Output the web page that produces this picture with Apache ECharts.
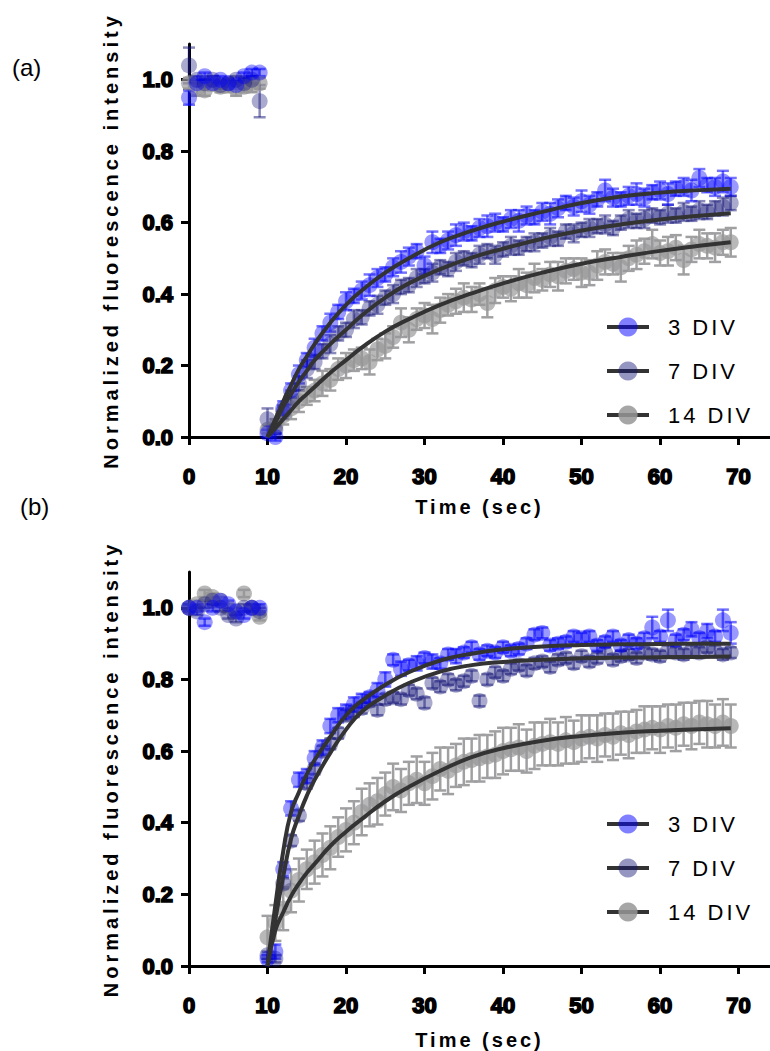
<!DOCTYPE html>
<html><head><meta charset="utf-8">
<script src="https://cdn.jsdelivr.net/npm/echarts@6/dist/echarts.min.js"></script>
<style>html,body{margin:0;padding:0;background:#fff}#c{width:770px;height:1051px}</style>
</head><body><div id="c"></div>
<script>
// ---------- data ----------
const seriesNames = ['3 DIV', '7 DIV', '14 DIV'];
const xTicks = [0, 10, 20, 30, 40, 50, 60, 70];
const yTicks = [0, 0.2, 0.4, 0.6, 0.8, 1.0];
const time = [0,1,2,3,4,5,6,7,8,9,10,11,12,13,14,15,16,17,18,19,20,21,22,23,24,25,26,27,28,29,30,31,32,33,34,35,36,37,38,39,40,41,42,43,44,45,46,47,48,49,50,51,52,53,54,55,56,57,58,59,60,61,62,63,64,65,66,67,68,69];

// panel (a)
const a3 = [0.95,0.99,1.01,0.99,1.00,0.99,0.985,1.01,1.02,1.02,
  0.01,0.00,0.08,0.13,0.175,0.215,0.25,0.29,0.32,0.35,
  0.38,0.395,0.41,0.425,0.445,0.455,0.475,0.49,0.505,0.52,
  0.48,0.545,0.535,0.55,0.565,0.575,0.57,0.585,0.59,0.60,
  0.595,0.61,0.605,0.62,0.615,0.63,0.625,0.64,0.655,0.645,
  0.66,0.65,0.665,0.69,0.67,0.665,0.675,0.68,0.67,0.685,
  0.69,0.68,0.695,0.70,0.69,0.725,0.705,0.70,0.715,0.70];
const a3err = [0.02,0.01,0.01,0.01,0.01,0.01,0.01,0.01,0.01,0.01,
  0.01,0.01,0.02,0.02,0.025,0.02,0.025,0.02,0.025,0.02,
  0.025,0.02,0.025,0.03,0.025,0.02,0.025,0.03,0.025,0.02,
  0.025,0.03,0.02,0.025,0.03,0.025,0.02,0.025,0.03,0.025,
  0.02,0.025,0.03,0.025,0.02,0.025,0.03,0.025,0.02,0.025,
  0.03,0.025,0.02,0.03,0.025,0.02,0.025,0.03,0.025,0.02,
  0.025,0.03,0.02,0.025,0.03,0.025,0.02,0.025,0.03,0.025];
const a7 = [1.04,1.00,0.99,1.00,0.985,0.99,1.00,0.99,1.00,0.94,
  0.05,0.02,0.07,0.11,0.15,0.19,0.21,0.24,0.26,0.29,
  0.30,0.33,0.335,0.36,0.37,0.39,0.40,0.42,0.425,0.445,
  0.45,0.46,0.475,0.47,0.49,0.50,0.495,0.51,0.52,0.51,
  0.525,0.535,0.53,0.54,0.545,0.55,0.56,0.555,0.575,0.57,
  0.58,0.585,0.59,0.595,0.585,0.60,0.61,0.605,0.61,0.62,
  0.615,0.625,0.62,0.63,0.625,0.635,0.63,0.64,0.645,0.655];
const a7err = [0.05,0.01,0.01,0.01,0.01,0.01,0.01,0.015,0.01,0.045,
  0.03,0.01,0.02,0.02,0.02,0.025,0.02,0.02,0.025,0.02,
  0.02,0.025,0.02,0.02,0.025,0.02,0.025,0.02,0.02,0.025,
  0.02,0.025,0.02,0.02,0.025,0.02,0.02,0.025,0.02,0.025,
  0.02,0.025,0.02,0.02,0.025,0.02,0.025,0.02,0.02,0.025,
  0.02,0.025,0.02,0.025,0.02,0.02,0.025,0.02,0.025,0.02,
  0.02,0.025,0.02,0.025,0.02,0.025,0.02,0.02,0.025,0.02];
const a14 = [0.99,0.975,0.97,0.99,0.98,0.985,0.975,0.98,0.985,0.99,
  0.02,0.03,0.06,0.08,0.10,0.115,0.13,0.15,0.16,0.19,
  0.20,0.215,0.22,0.21,0.245,0.255,0.28,0.32,0.30,0.33,
  0.34,0.33,0.355,0.37,0.38,0.39,0.385,0.40,0.375,0.41,
  0.42,0.415,0.43,0.425,0.445,0.44,0.455,0.45,0.465,0.47,
  0.46,0.46,0.48,0.49,0.485,0.475,0.50,0.51,0.52,0.54,
  0.515,0.52,0.53,0.495,0.525,0.54,0.535,0.53,0.545,0.545];
const a14err = [0.015,0.02,0.015,0.02,0.015,0.02,0.02,0.015,0.02,0.015,
  0.01,0.02,0.025,0.03,0.03,0.025,0.03,0.035,0.03,0.03,
  0.035,0.03,0.03,0.035,0.03,0.035,0.03,0.04,0.035,0.03,
  0.035,0.04,0.035,0.03,0.035,0.04,0.035,0.03,0.04,0.035,
  0.03,0.035,0.04,0.035,0.04,0.03,0.035,0.04,0.035,0.03,
  0.04,0.035,0.04,0.035,0.03,0.04,0.035,0.04,0.035,0.04,
  0.035,0.04,0.035,0.04,0.035,0.04,0.035,0.04,0.035,0.04];

// panel (b)
const b3 = [1.00,1.00,0.96,1.00,1.02,1.01,0.99,0.98,1.00,1.00,
  0.02,0.04,0.27,0.44,0.52,0.53,0.58,0.61,0.67,0.70,
  0.71,0.73,0.74,0.75,0.77,0.80,0.855,0.83,0.84,0.845,
  0.86,0.85,0.845,0.87,0.865,0.875,0.89,0.87,0.88,0.875,
  0.89,0.88,0.885,0.90,0.925,0.93,0.895,0.90,0.905,0.92,
  0.915,0.92,0.895,0.905,0.92,0.895,0.91,0.90,0.915,0.945,
  0.92,0.965,0.91,0.925,0.94,0.915,0.935,0.92,0.965,0.93];
const b3err = [0.01,0.01,0.01,0.01,0.01,0.01,0.01,0.01,0.01,0.01,
  0.01,0.02,0.02,0.02,0.02,0.02,0.02,0.02,0.02,0.02,
  0.02,0.02,0.02,0.015,0.02,0.02,0.015,0.02,0.015,0.02,
  0.015,0.02,0.015,0.015,0.02,0.015,0.015,0.015,0.015,0.015,
  0.015,0.015,0.015,0.015,0.015,0.015,0.015,0.015,0.015,0.015,
  0.015,0.015,0.015,0.015,0.015,0.015,0.015,0.015,0.015,0.03,
  0.015,0.03,0.015,0.015,0.02,0.015,0.02,0.015,0.03,0.03];
const b7 = [1.00,0.99,1.01,1.02,1.00,0.98,0.97,1.00,1.00,0.99,
  0.03,0.02,0.23,0.35,0.42,0.51,0.55,0.60,0.62,0.65,
  0.70,0.71,0.72,0.74,0.715,0.745,0.75,0.745,0.77,0.76,
  0.735,0.79,0.78,0.80,0.785,0.795,0.81,0.74,0.80,0.82,
  0.81,0.83,0.84,0.825,0.845,0.85,0.835,0.855,0.86,0.845,
  0.865,0.85,0.86,0.875,0.855,0.865,0.87,0.86,0.875,0.87,
  0.865,0.88,0.875,0.87,0.88,0.875,0.89,0.88,0.87,0.875];
const b7err = [0.01,0.01,0.01,0.01,0.01,0.01,0.01,0.01,0.01,0.01,
  0.01,0.01,0.015,0.015,0.015,0.015,0.015,0.015,0.015,0.015,
  0.015,0.015,0.015,0.015,0.015,0.015,0.015,0.015,0.015,0.015,
  0.015,0.015,0.015,0.015,0.015,0.015,0.015,0.015,0.015,0.015,
  0.015,0.015,0.015,0.015,0.015,0.015,0.015,0.015,0.015,0.015,
  0.015,0.015,0.015,0.015,0.015,0.015,0.015,0.015,0.015,0.015,
  0.015,0.015,0.015,0.015,0.015,0.015,0.015,0.015,0.015,0.015];
const b14 = [1.00,1.01,1.04,1.03,1.02,1.00,0.99,1.04,1.00,0.975,
  0.08,0.12,0.16,0.21,0.24,0.27,0.29,0.31,0.33,0.36,
  0.38,0.40,0.43,0.45,0.46,0.48,0.50,0.49,0.51,0.52,
  0.51,0.53,0.55,0.545,0.56,0.57,0.575,0.58,0.585,0.59,
  0.60,0.605,0.61,0.60,0.615,0.62,0.625,0.62,0.63,0.625,
  0.635,0.64,0.635,0.645,0.64,0.65,0.645,0.655,0.66,0.665,
  0.66,0.67,0.665,0.675,0.67,0.68,0.675,0.67,0.68,0.67];
const b14err = [0.01,0.01,0.01,0.01,0.01,0.01,0.01,0.01,0.01,0.01,
  0.06,0.05,0.06,0.06,0.06,0.055,0.06,0.06,0.06,0.055,
  0.06,0.06,0.065,0.06,0.065,0.06,0.065,0.06,0.06,0.065,
  0.06,0.065,0.06,0.065,0.06,0.065,0.06,0.065,0.06,0.065,
  0.065,0.06,0.065,0.06,0.065,0.06,0.065,0.06,0.065,0.06,
  0.065,0.06,0.065,0.06,0.065,0.06,0.065,0.06,0.065,0.06,
  0.065,0.06,0.065,0.06,0.065,0.06,0.065,0.06,0.065,0.06];

// fitted recovery curves
const fitTime = [10,11,12,13,14,15,16,18,20,22,25,28,32,36,40,45,50,55,60,65,69];
const fitA3  = [0,0.05,0.10,0.145,0.19,0.225,0.26,0.32,0.37,0.41,0.46,0.50,0.545,0.577,0.603,0.63,0.655,0.673,0.684,0.691,0.695];
const fitA7  = [0,0.04,0.085,0.12,0.155,0.185,0.215,0.26,0.30,0.34,0.39,0.43,0.47,0.502,0.527,0.555,0.578,0.595,0.609,0.619,0.626];
const fitA14 = [0,0.025,0.05,0.075,0.10,0.12,0.14,0.18,0.215,0.25,0.295,0.33,0.37,0.402,0.43,0.46,0.485,0.504,0.521,0.535,0.545];
const fitB3  = [0,0.17,0.32,0.43,0.485,0.535,0.575,0.64,0.70,0.74,0.785,0.82,0.853,0.872,0.884,0.892,0.896,0.898,0.899,0.90,0.90];
const fitB7  = [0,0.13,0.25,0.355,0.42,0.475,0.52,0.595,0.66,0.71,0.755,0.79,0.822,0.84,0.849,0.855,0.859,0.861,0.862,0.863,0.864];
const fitB14 = [0,0.10,0.15,0.195,0.23,0.26,0.285,0.335,0.375,0.41,0.46,0.50,0.545,0.583,0.608,0.629,0.642,0.651,0.657,0.661,0.664];

// ---------- styling ----------
const markColor = ['rgba(0,0,255,0.5)', 'rgba(20,20,120,0.45)', 'rgba(150,150,152,0.85)'];
const errColor  = ['rgba(0,0,255,0.55)', 'rgba(20,20,120,0.5)', 'rgba(160,160,162,1)'];
const FIT = '#333333';
const tickFont = { fontFamily: 'Liberation Sans, Arial, sans-serif', fontWeight: 'bold', fontSize: 22, color: '#000', textBorderColor: '#000', textBorderWidth: 1.6 };
const nameFont = { fontFamily: 'Liberation Sans, Arial, sans-serif', fontWeight: 'bold', fontSize: 20, color: '#000' };

function pairs(xs, ys) { return xs.map((x, i) => [x, ys[i]]); }
function errData(vals, errs) { return time.map((t, i) => [t, vals[i] - errs[i], vals[i] + errs[i]]); }

function errRender(color) {
  return function (params, api) {
    const x = api.value(0);
    const top = api.coord([x, api.value(2)]);
    const bot = api.coord([x, api.value(1)]);
    const hw = 6;
    const st = { stroke: color, lineWidth: 2.5 };
    return { type: 'group', children: [
      { type: 'line', shape: { x1: top[0], y1: top[1], x2: bot[0], y2: bot[1] }, style: st },
      { type: 'line', shape: { x1: top[0] - hw, y1: top[1], x2: top[0] + hw, y2: top[1] }, style: st },
      { type: 'line', shape: { x1: bot[0] - hw, y1: bot[1], x2: bot[0] + hw, y2: bot[1] }, style: st }
    ] };
  };
}

const panels = [
  { vals: [a3, a7, a14], errs: [a3err, a7err, a14err], fits: [fitA3, fitA7, fitA14] },
  { vals: [b3, b7, b14], errs: [b3err, b7err, b14err], fits: [fitB3, fitB7, fitB14] }
];

const series = [];
// fit lines first (they provide the legend icons: dark line + coloured dot)
panels.forEach((p, g) => {
  p.fits.forEach((f, k) => {
    series.push({
      type: 'line', name: seriesNames[k], xAxisIndex: g, yAxisIndex: g,
      data: pairs(fitTime, f), smooth: 0.5, showSymbol: false, symbol: 'circle',
      itemStyle: { color: markColor[k] },
      lineStyle: { color: FIT, width: 4 }, z: 6, silent: true
    });
  });
});
panels.forEach((p, g) => {
  [2, 1, 0].forEach(k => {
    series.push({
      type: 'custom', name: seriesNames[k], xAxisIndex: g, yAxisIndex: g,
      data: errData(p.vals[k], p.errs[k]), renderItem: errRender(errColor[k]),
      z: 3, silent: true, clip: false
    });
  });
  [2, 1, 0].forEach(k => {
    series.push({
      type: 'scatter', name: seriesNames[k], xAxisIndex: g, yAxisIndex: g,
      data: pairs(time, p.vals[k]), symbol: 'circle', symbolSize: 16,
      itemStyle: { color: markColor[k] }, z: 4, silent: true
    });
  });
});

function xAxis(g, gap) {
  return {
    type: 'value', gridIndex: g, min: 0, max: 74, interval: 10,
    name: 'Time (sec)', nameLocation: 'middle', nameGap: gap, nameTextStyle: nameFont,
    axisLine: { show: true, lineStyle: { color: '#000', width: 3 } },
    axisTick: { show: true, length: 8, lineStyle: { color: '#000', width: 3 }, customValues: xTicks },
    axisLabel: Object.assign({ margin: 28, customValues: xTicks }, tickFont),
    splitLine: { show: false }
  };
}
function yAxis(g) {
  return {
    type: 'value', gridIndex: g, min: 0, max: 1.1, interval: 0.2,
    name: 'Normalized fluorescence intensity', nameLocation: 'middle', nameGap: 68, nameTextStyle: nameFont,
    axisLine: { show: true, lineStyle: { color: '#000', width: 3 } },
    axisTick: { show: true, length: 8, lineStyle: { color: '#000', width: 3 }, customValues: yTicks },
    axisLabel: Object.assign({ margin: 16, customValues: yTicks, formatter: v => v.toFixed(1) }, tickFont),
    splitLine: { show: false }
  };
}

function legend(top) {
  return {
    data: seriesNames, orient: 'vertical', left: 600, top: top,
    itemWidth: 42, itemHeight: 24, itemGap: 22, selectedMode: false,
    lineStyle: { width: 4, color: FIT },
    textStyle: { fontFamily: 'Liberation Sans, Arial, sans-serif', fontSize: 22, color: '#000', padding: [0, 0, 0, 14] }
  };
}

const option = {
  animation: false,
  backgroundColor: '#fff',
  grid: [
    { left: 189, top: 44, width: 582, height: 393 },
    { left: 189, top: 572, width: 582, height: 394 }
  ],
  xAxis: [xAxis(0, 60), xAxis(1, 64)],
  yAxis: [yAxis(0), yAxis(1)],
  legend: [legend(311), legend(808)],
  graphic: [
    { type: 'text', left: 12, top: 55, style: { text: '(a)', fontSize: 24, fontFamily: 'Liberation Sans, Arial, sans-serif', fill: '#000' } },
    { type: 'text', left: 20, top: 494, style: { text: '(b)', fontSize: 24, fontFamily: 'Liberation Sans, Arial, sans-serif', fill: '#000' } }
  ],
  series: series
};

const chart = echarts.init(document.getElementById('c'), null, { renderer: 'svg' });
chart.setOption(option);

// letter spacing as in the original figure
const spacing = { 'Normalized fluorescence intensity': '4px', 'Time (sec)': '3px', '3 DIV': '3px', '7 DIV': '3px', '14 DIV': '3px' };
document.querySelectorAll('#c text').forEach(t => {
  const s = spacing[t.textContent];
  if (s) t.style.letterSpacing = s;
});
</script></body></html>
